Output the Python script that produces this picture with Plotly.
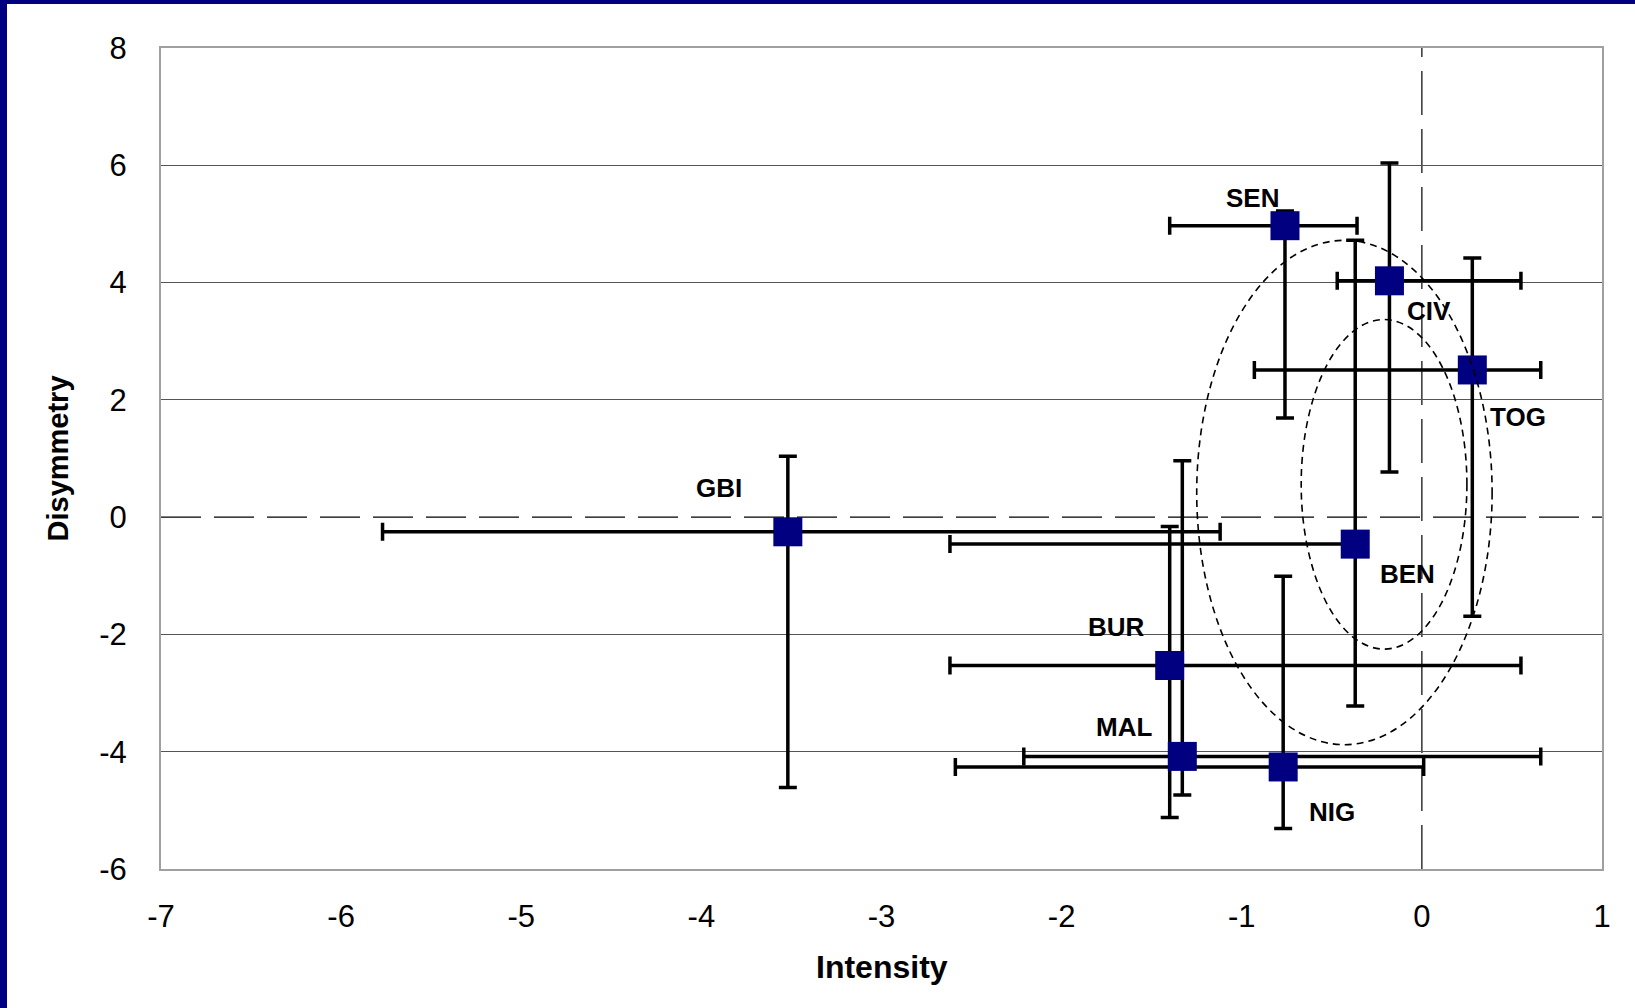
import plotly.graph_objects as go

# ---------------- data ----------------
countries = ["SEN", "CIV", "TOG", "GBI", "BEN", "BUR", "MAL", "NIG"]
intensity = [-0.76, -0.18, 0.28, -3.52, -0.37, -1.40, -1.33, -0.77]
disymmetry = [4.97, 4.03, 2.51, -0.25, -0.46, -2.53, -4.08, -4.26]
intensity_low = [-1.40, -0.47, -0.93, -5.77, -2.62, -2.62, -2.21, -2.59]
intensity_high = [-0.36, 0.55, 0.66, -1.12, -0.37, 0.55, 0.66, 0.01]
disymmetry_low = [1.69, 0.77, -1.69, -4.61, -3.22, -5.12, -4.74, -5.31]
disymmetry_high = [5.22, 6.04, 4.42, 1.04, 4.72, -0.16, 0.96, -1.01]

x_ticks = [-7, -6, -5, -4, -3, -2, -1, 0, 1]
x_tick_labels = ["-7", "-6", "-5", "-4", "-3", "-2", "-1", "0", "1"]
y_ticks = [-6, -4, -2, 0, 2, 4, 6, 8]
y_tick_labels = ["-6", "-4", "-2", "0", "2", "4", "6", "8"]
y_grid = [-4, -2, 2, 4, 6]

# dashed ellipses (center x, center y, half width, half height)
ellipse_cx = [-0.43, -0.21]
ellipse_cy = [0.42, 0.56]
ellipse_rx = [0.82, 0.46]
ellipse_ry = [4.30, 2.81]

# label offsets in pixels (style)
label_dx = [-32, 40, 46, -69, 52, -53, -58, 49]
label_dy = [28, -30, -47, 44, -30, 39, 29, -45]

# ---------------- figure ----------------
W, H = 1635, 1008
ML, MR, MT, MB = 161, 33, 48, 139
PW, PH = W - ML - MR, H - MT - MB
FONT = "Liberation Sans, Arial"

err_x_plus = [h - v for h, v in zip(intensity_high, intensity)]
err_x_minus = [v - l for l, v in zip(intensity_low, intensity)]
err_y_plus = [h - v for h, v in zip(disymmetry_high, disymmetry)]
err_y_minus = [v - l for l, v in zip(disymmetry_low, disymmetry)]

fig = go.Figure()

# secondary axis only for gridlines
fig.add_trace(go.Scatter(x=[None], y=[None], yaxis="y2", showlegend=False, hoverinfo="skip"))

fig.add_trace(go.Scatter(
    x=intensity, y=disymmetry, mode="markers",
    marker=dict(symbol="square", size=29, color="#000080"),
    error_x=dict(type="data", symmetric=False, array=err_x_plus, arrayminus=err_x_minus,
                 color="black", thickness=3.5, width=9),
    error_y=dict(type="data", symmetric=False, array=err_y_plus, arrayminus=err_y_minus,
                 color="black", thickness=3.5, width=9),
    showlegend=False, text=countries,
))

shapes = []
# dashed axis-crossing lines
shapes.append(dict(type="line", xref="x", yref="y", x0=0, x1=0, y0=-6, y1=8,
                   line=dict(color="black", width=1.2, dash="44px,14px"), layer="below"))
shapes.append(dict(type="line", xref="x", yref="y", x0=-7, x1=1, y0=0, y1=0,
                   line=dict(color="black", width=1.2, dash="40px,13px"), layer="below"))
# ellipses
for cx, cy, rx, ry in zip(ellipse_cx, ellipse_cy, ellipse_rx, ellipse_ry):
    shapes.append(dict(type="circle", xref="x", yref="y",
                       x0=cx - rx, x1=cx + rx, y0=cy - ry, y1=cy + ry,
                       line=dict(color="black", width=1.6, dash="7px,5px"), layer="above"))


def px2paper_x(px):
    return (px - ML) / PW


def px2paper_y(py):
    return (H - MB - py) / PH


# navy frame (left and top edges of the slide)
shapes.append(dict(type="rect", xref="paper", yref="paper",
                   x0=px2paper_x(0), x1=px2paper_x(7), y0=px2paper_y(H), y1=px2paper_y(0),
                   fillcolor="#000080", line=dict(width=0), layer="above"))
shapes.append(dict(type="rect", xref="paper", yref="paper",
                   x0=px2paper_x(0), x1=px2paper_x(W), y0=px2paper_y(4), y1=px2paper_y(0),
                   fillcolor="#000080", line=dict(width=0), layer="above"))

annotations = []
for name, x, y, dx, dy in zip(countries, intensity, disymmetry, label_dx, label_dy):
    annotations.append(dict(x=x, y=y, xref="x", yref="y", text="<b>" + name + "</b>",
                            showarrow=False, xshift=dx, yshift=dy,
                            xanchor="center", yanchor="middle",
                            font=dict(family=FONT, size=26, color="black")))

annotations.append(dict(x=0.5, y=px2paper_y(967), xref="paper", yref="paper",
                        text="<b>Intensity</b>", showarrow=False,
                        xanchor="center", yanchor="middle",
                        font=dict(family=FONT, size=32, color="black")))
annotations.append(dict(x=px2paper_x(57), y=0.5, xref="paper", yref="paper",
                        text="<b>Disymmetry</b>", showarrow=False, textangle=-90,
                        xanchor="center", yanchor="middle",
                        font=dict(family=FONT, size=29, color="black")))

fig.update_layout(
    width=W, height=H,
    margin=dict(l=ML, r=MR, t=MT, b=MB),
    paper_bgcolor="white", plot_bgcolor="white",
    template="none",
    font=dict(family=FONT, color="black"),
    xaxis=dict(range=[-7, 1], tickvals=x_ticks, ticktext=x_tick_labels,
               showgrid=False, zeroline=False, showline=True, mirror=True,
               linecolor="#a0a0a0", linewidth=2, ticks="",
               ticklabelstandoff=19,
               tickfont=dict(size=31, family=FONT, color="black")),
    yaxis=dict(range=[-6, 8], tickvals=y_ticks, ticktext=y_tick_labels,
               showgrid=False, zeroline=False, showline=True, mirror=True,
               linecolor="#a0a0a0", linewidth=2, ticks="",
               ticklabelstandoff=26,
               tickfont=dict(size=31, family=FONT, color="black")),
    yaxis2=dict(range=[-6, 8], overlaying="y", side="left", tickvals=y_grid,
                showticklabels=False, showgrid=True, gridcolor="#555555", gridwidth=1,
                zeroline=False, showline=False, ticks=""),
    shapes=shapes,
    annotations=annotations,
    showlegend=False,
)

fig.write_html("out.html", config={"displayModeBar": False},
               post_script="document.body.style.margin='0';document.body.style.overflow='hidden';")
